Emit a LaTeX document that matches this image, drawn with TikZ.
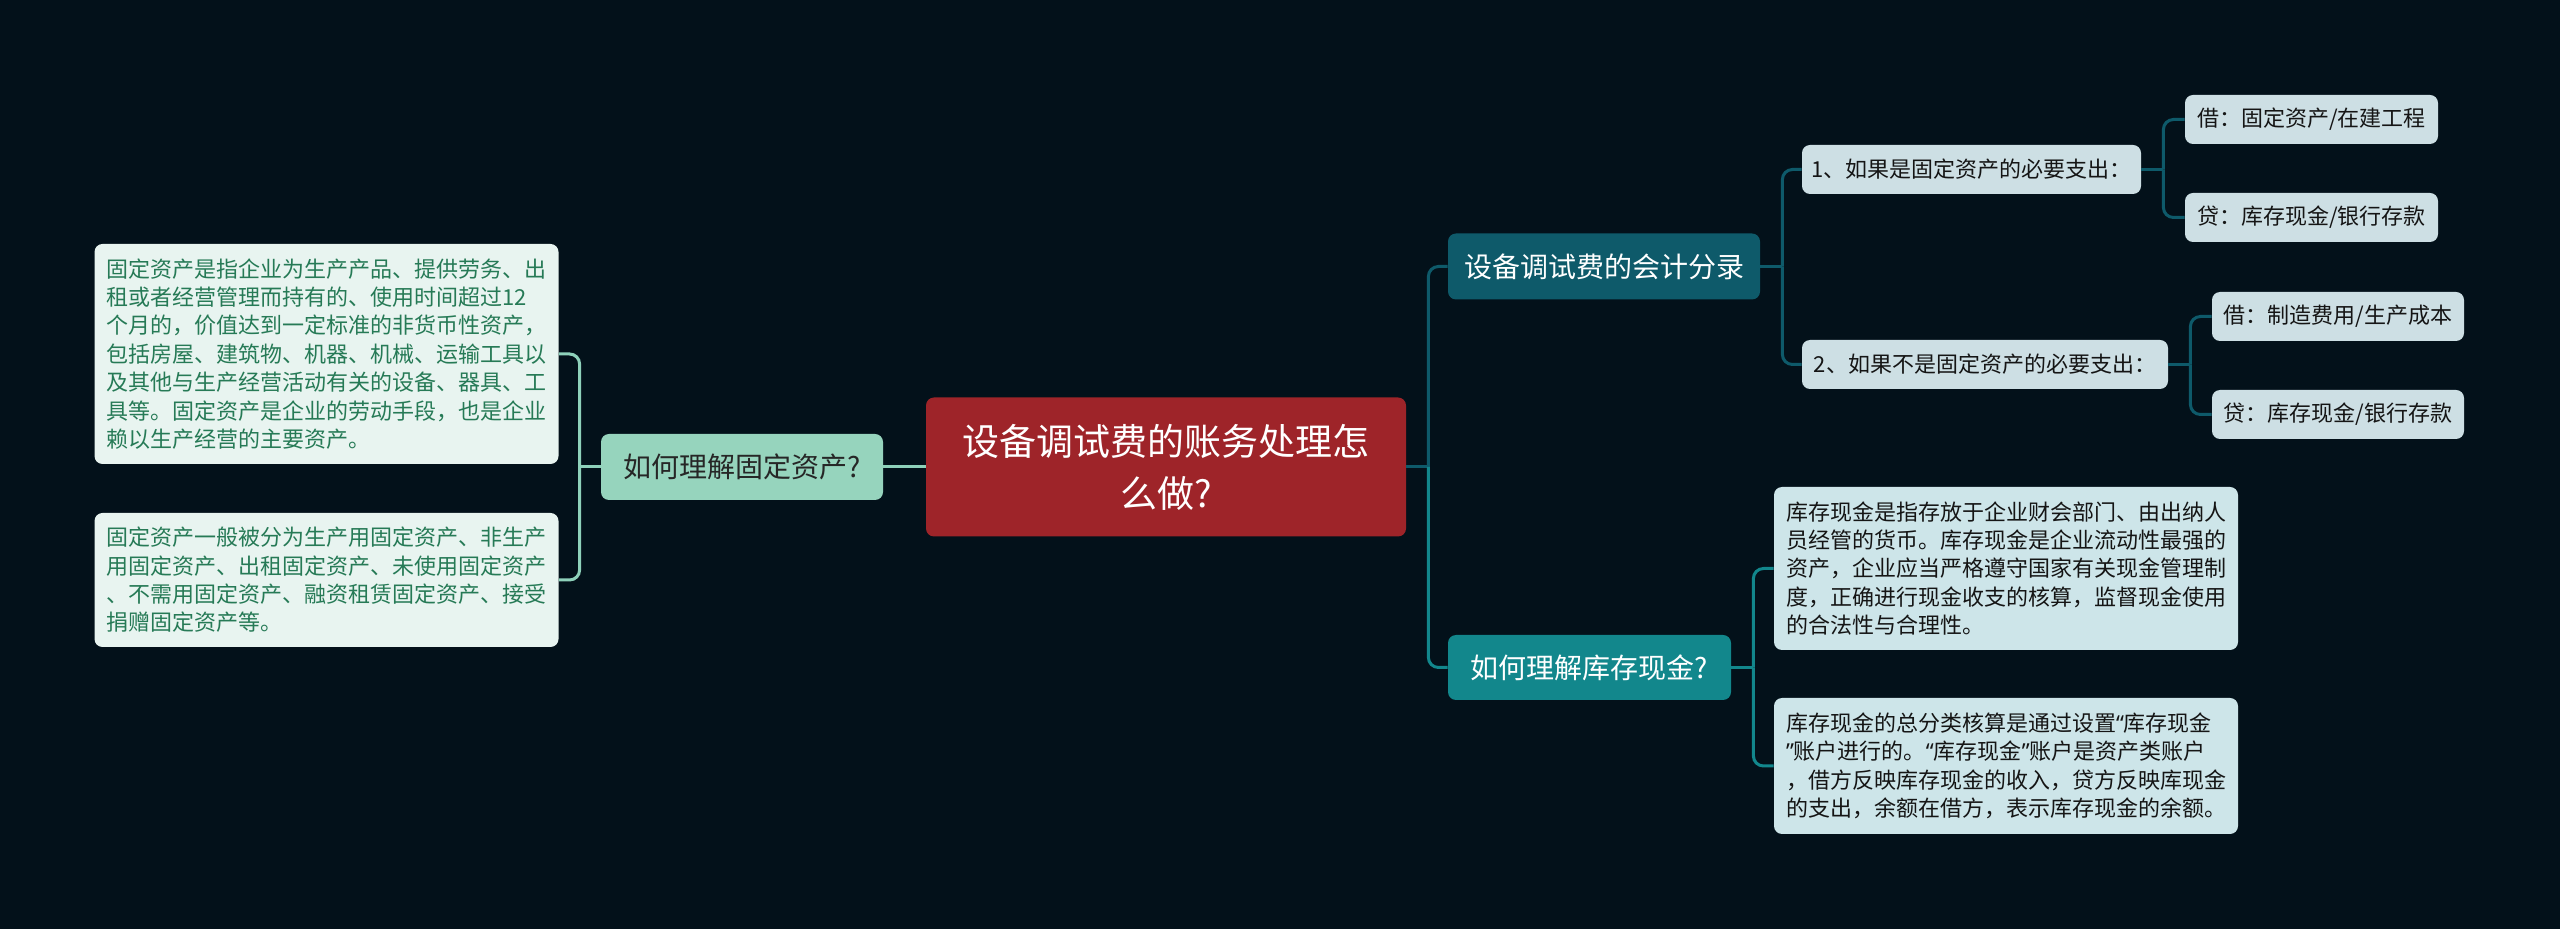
\documentclass[tikz,border=0pt]{standalone}
\usepackage{fontspec}
\setmainfont{Noto Sans CJK SC}
\newfontfamily\latq{Noto Sans}
\usetikzlibrary{calc}
\definecolor{bgc}{HTML}{03111A}
\definecolor{cred}{HTML}{9E2429}
\definecolor{mint}{HTML}{96D4BD}
\definecolor{mintline}{HTML}{8ED1BA}
\definecolor{dteal}{HTML}{0E5A6A}
\definecolor{teal}{HTML}{12878C}
\definecolor{lvl3}{HTML}{CDDFE4}
\definecolor{lbox}{HTML}{E8F4F0}
\definecolor{ltext}{HTML}{267A56}
\definecolor{rbox}{HTML}{CDE5E9}
\definecolor{dtext}{HTML}{151515}
\tikzset{
  base/.style={inner sep=0pt, rounded corners=4pt, anchor=center},
  rootnode/.style={base, fill=cred, text=white, minimum width=240pt, minimum height=69.5pt,
    align=center, font=\fontsize{18.5}{26}\selectfont},
  sub/.style={base, minimum height=33pt, font=\fontsize{14}{17}\selectfont},
  leaf/.style={base, fill=lvl3, text=dtext, minimum height=24.5pt, font=\fontsize{11}{13}\selectfont},
  tbox/.style={base, inner xsep=6pt, text width=220pt, align=left, font=\fontsize{11}{14.2}\selectfont},
  leftbox/.style={tbox, fill=lbox, text=ltext},
  rightbox/.style={tbox, fill=rbox, text=dtext},
  conn/.style={line width=1.5pt, rounded corners=5pt},
}
\begin{document}
\begin{tikzpicture}[x=0.5pt,y=-0.5pt]
\fill[bgc] (0,0) rectangle (2560,929);
\useasboundingbox (0,0) rectangle (2560,929);

\node[rootnode] (root) at (1166,467) {设备调试费的账务处理怎\\么做?};

\node[sub, fill=mint, text=black!85, minimum width=141pt] (L1) at (742,467) {如何理解固定资产?};
\node[leftbox, minimum height=110pt] (LB1) at (326.5,354) {固定资产是指企业为生产产品、提供劳务、出\\租或者经营管理而持有的、使用时间超过12\\个月的，价值达到一定标准的非货币性资产，\\包括房屋、建筑物、机器、机械、运输工具以\\及其他与生产经营活动有关的设备、器具、工\\具等。固定资产是企业的劳动手段，也是企业\\赖以生产经营的主要资产。};
\node[leftbox, minimum height=67pt] (LB2) at (326.5,580) {固定资产一般被分为生产用固定资产、非生产\\用固定资产、出租固定资产、未使用固定资产\\、不需用固定资产、融资租赁固定资产、接受\\捐赠固定资产等。};

\node[sub, fill=dteal, text=white, minimum width=156pt] (R1) at (1604,266.5) {设备调试费的会计分录};
\node[sub, fill=teal, text=white, minimum width=141.5pt, minimum height=32.5pt] (R2) at (1589.5,667.5) {如何理解库存现金?};

\node[leaf, minimum width=169.5pt] (A1) at (1971.5,169.5) {1、如果是固定资产的必要支出：};
\node[leaf, minimum width=183pt] (A2) at (1985,364.5) {2、如果不是固定资产的必要支出：};
\node[leaf, minimum width=126.5pt] (B1) at (2311.5,119.5) {借：固定资产/在建工程};
\node[leaf, minimum width=126.5pt] (B2) at (2311.5,217.5) {贷：库存现金/银行存款};
\node[leaf, minimum width=126pt] (B3) at (2338,316.5) {借：制造费用/生产成本};
\node[leaf, minimum width=126pt] (B4) at (2338,414.5) {贷：库存现金/银行存款};

\node[rightbox, minimum height=81.5pt] (RB1) at (2006,568.5) {库存现金是指存放于企业财会部门、由出纳人\\员经管的货币。库存现金是企业流动性最强的\\资产，企业应当严格遵守国家有关现金管理制\\度，正确进行现金收支的核算，监督现金使用\\的合法性与合理性。};
\node[rightbox, minimum height=68pt] (RB2) at (2006,766) {库存现金的总分类核算是通过设置{\latq “}库存现金\\{\latq ”}账户进行的。{\latq “}库存现金{\latq ”}账户是资产类账户\\，借方反映库存现金的收入，贷方反映库现金\\的支出，余额在借方，表示库存现金的余额。};

% connectors
\draw[conn, mintline] (root.west) -- (L1.west -| L1.east);
\draw[conn, mintline] (L1.west) -- ++(-21,0);
\draw[conn, mintline] ($(L1.west)+(-21,0)$) |- (LB1.east);
\draw[conn, mintline] ($(L1.west)+(-21,0)$) |- (LB2.east);

\draw[conn, dteal] (root.east) -- ++(22,0);
\draw[conn, dteal] ($(root.east)+(22,0)$) |- (R1.west);
\draw[conn, teal] ($(root.east)+(22,0)$) |- (R2.west);

\draw[conn, dteal] (R1.east) -- ++(22,0);
\draw[conn, dteal] ($(R1.east)+(22,0)$) |- (A1.west);
\draw[conn, dteal] ($(R1.east)+(22,0)$) |- (A2.west);

\draw[conn, dteal] (A1.east) -- ++(22,0);
\draw[conn, dteal] ($(A1.east)+(22,0)$) |- (B1.west);
\draw[conn, dteal] ($(A1.east)+(22,0)$) |- (B2.west);

\draw[conn, dteal] (A2.east) -- ++(22,0);
\draw[conn, dteal] ($(A2.east)+(22,0)$) |- (B3.west);
\draw[conn, dteal] ($(A2.east)+(22,0)$) |- (B4.west);

\draw[conn, teal] (R2.east) -- ++(22,0);
\draw[conn, teal] ($(R2.east)+(22,0)$) |- (RB1.west);
\draw[conn, teal] ($(R2.east)+(22,0)$) |- (RB2.west);
\end{tikzpicture}
\end{document}
